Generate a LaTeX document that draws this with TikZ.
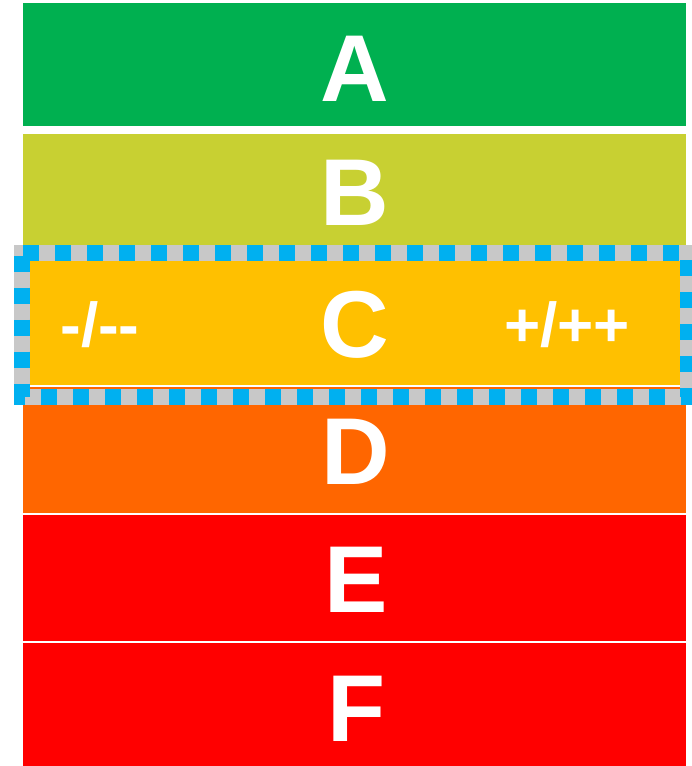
\documentclass[tikz,border=0pt]{standalone}
\usepackage{fontspec}
\setmainfont{Liberation Sans}
\definecolor{clsA}{HTML}{00B050}
\definecolor{clsB}{HTML}{C8D032}
\definecolor{clsC}{HTML}{FFC000}
\definecolor{clsD}{HTML}{FF6600}
\definecolor{clsE}{HTML}{FF0000}
\definecolor{frameblue}{HTML}{00B0F0}
\definecolor{framegray}{HTML}{C8C8C8}

\begin{document}
\begin{tikzpicture}[
  x=1pt,y=-1pt,
  band/.style={rectangle,draw=none,inner sep=0pt,anchor=north west,minimum width=663pt},
  big/.style={text=white,inner sep=0pt,anchor=base,font=\fontsize{95}{95}\selectfont\bfseries},
  small/.style={text=white,inner sep=0pt,anchor=base,font=\fontsize{62}{62}\selectfont\bfseries},
  rim/.style={line width=16pt}
]
\useasboundingbox (0,0) rectangle (692,766);
\clip (0,0) rectangle (692,766);
% the six classes
\node[band,fill=clsA,minimum height=123pt] (bA) at (23,3) {};
\node[band,fill=clsB,minimum height=120pt] (bB) at (23,134) {};
\node[band,fill=clsC,minimum height=131pt] (bC) at (23,254) {};
\node[band,fill=clsD,minimum height=126pt] (bD) at (23,387) {};
\node[band,fill=clsE,minimum height=126pt] (bE) at (23,515) {};
\node[band,fill=clsE,minimum height=123pt] (bF) at (23,643) {};
% frame round class C
\draw[rim,color=framegray] (22,252.5) rectangle (688,396.5);
\draw[rim,color=frameblue,dash pattern=on 16pt off 16pt,dash phase=29pt] (22,252.5) rectangle (688,396.5);
% letters
\node[big] (lA) at (355,101) {A};
\node[big] (lB) at (355,225) {B};
\node[big] (lC) at (355,357) {C};
\node[big] (lD) at (356,484) {D};
\node[big] (lE) at (356,612) {E};
\node[big] (lF) at (357,741) {F};
\node[small] (minus) at (100,346) {-/-\kern0pt-};
\node[small] (plus) at (567,346) {+/++};
\end{tikzpicture}
\end{document}
